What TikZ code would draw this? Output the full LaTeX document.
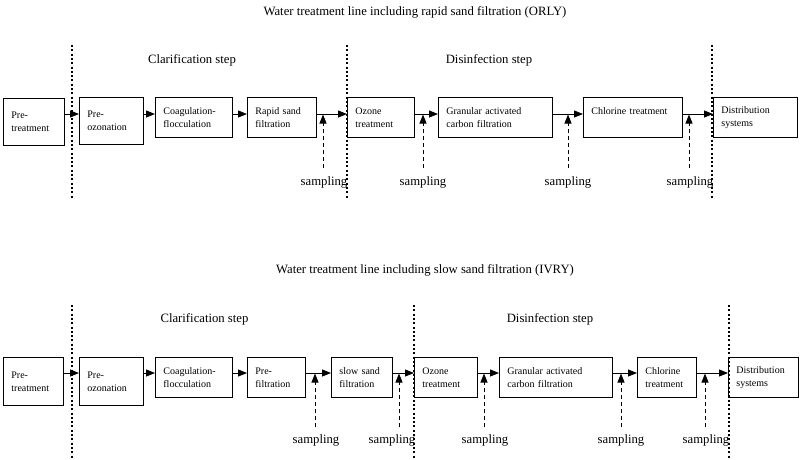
\documentclass[tikz,border=0pt]{standalone}
\usepackage{fontspec}
\setmainfont{Liberation Serif}
\usetikzlibrary{arrows.meta}
\tikzset{
  stage/.style={draw, line width=0.8pt, anchor=north west, align=left, inner xsep=8pt, inner ysep=0pt, font=\fontsize{10}{13}\selectfont},
  flow/.style={line width=0.9pt, -{Triangle[length=9pt,width=7pt]}},
  sample/.style={flow, dash pattern=on 4pt off 3pt},
  border/.style={line width=2pt, dash pattern=on 2pt off 2.3pt},
  heading/.style={font=\fontsize{12.7}{15}\selectfont, inner sep=0pt}
}
\begin{document}
\begin{tikzpicture}[x=1pt,y=1pt,yscale=-1,xscale=1]
            \useasboundingbox (0,0) rectangle (800,459);
            % ORLY line
            \node[heading] (titleA) at (415,12) {Water treatment line including rapid sand filtration (ORLY)};
            \node[heading] (clarA) at (192,60) {Clarification step};
            \node[heading] (disA) at (489,60) {Disinfection step};
            \draw[border] (71.5,45) -- (71.5,199);
            \draw[border] (347,45) -- (347,199);
            \draw[border] (712,45) -- (712,199);
            \coordinate (lineA) at (0,114);
            \node[stage, text width=45pt, minimum height=47pt] (pretreatA) at (3,98) {Pre-\\treatment};
            \node[stage, text width=48pt, minimum height=47pt] (preozoneA) at (79,97) {Pre-\\ozonation};
            \node[stage, text width=61pt, minimum height=40pt] (coagA) at (155,97) {Coagulation-\\flocculation};
            \node[stage, text width=53pt, minimum height=40pt] (rapidA) at (247,97) {Rapid sand\\filtration};
            \node[stage, text width=51pt, minimum height=40pt] (ozoneA) at (347,97) {Ozone\\treatment};
            \node[stage, text width=98pt, minimum height=40pt] (gacA) at (438,97) {Granular activated\\carbon filtration};
            \node[stage, text width=83pt, minimum height=40pt] (chlorA) at (583,97) {Chlorine treatment\\\mbox{}};
            \node[stage, text width=68pt, minimum height=40pt] (distA) at (713,97) {Distribution\\systems};
            \draw[flow] (pretreatA.east |- lineA) -- (preozoneA.west |- lineA);
            \draw[flow] (preozoneA.east |- lineA) -- (coagA.west |- lineA);
            \draw[flow] (coagA.east |- lineA) -- (rapidA.west |- lineA);
            \draw[flow] (rapidA.east |- lineA) -- (ozoneA.west |- lineA);
            \draw[flow] (ozoneA.east |- lineA) -- (gacA.west |- lineA);
            \draw[flow] (gacA.east |- lineA) -- (chlorA.west |- lineA);
            \draw[flow] (chlorA.east |- lineA) -- (distA.west |- lineA);
            \draw[sample] (323,168) -- (323,114.5);
            \draw[sample] (423,168) -- (423,114.5);
            \draw[sample] (568,168) -- (568,114.5);
            \draw[sample] (689,168) -- (689,114.5);
            \node[heading] (sampA1) at (324,182) {sampling};
            \node[heading] (sampA2) at (423,182) {sampling};
            \node[heading] (sampA3) at (568,182) {sampling};
            \node[heading] (sampA4) at (690,182) {sampling};
            % IVRY line
            \node[heading] (titleB) at (425,270) {Water treatment line including slow sand filtration (IVRY)};
            \node[heading] (clarB) at (204.5,319) {Clarification step};
            \node[heading] (disB) at (550,319) {Disinfection step};
            \draw[border] (71.5,305) -- (71.5,459);
            \draw[border] (414,305) -- (414,459);
            \draw[border] (729,305) -- (729,459);
            \coordinate (lineB) at (0,373);
            \node[stage, text width=44pt, minimum height=48pt] (pretreatB) at (3,357) {Pre-\\treatment};
            \node[stage, text width=48pt, minimum height=48pt] (preozoneB) at (79,357) {Pre-\\ozonation};
            \node[stage, text width=61pt, minimum height=40pt] (coagB) at (155,357) {Coagulation-\\flocculation};
            \node[stage, text width=42pt, minimum height=40pt] (prefiltB) at (247,357) {Pre-\\filtration};
            \node[stage, text width=45pt, minimum height=40pt] (slowB) at (331,357) {slow sand\\filtration};
            \node[stage, text width=47pt, minimum height=40pt] (ozoneB) at (414,357) {Ozone\\treatment};
            \node[stage, text width=97pt, minimum height=40pt] (gacB) at (499,357) {Granular activated\\carbon filtration};
            \node[stage, text width=43pt, minimum height=40pt] (chlorB) at (637,357) {Chlorine\\treatment};
            \node[stage, text width=54pt, minimum height=40pt] (distB) at (728,357) {Distribution\\systems};
            \draw[flow] (pretreatB.east |- lineB) -- (preozoneB.west |- lineB);
            \draw[flow] (preozoneB.east |- lineB) -- (coagB.west |- lineB);
            \draw[flow] (coagB.east |- lineB) -- (prefiltB.west |- lineB);
            \draw[flow] (prefiltB.east |- lineB) -- (slowB.west |- lineB);
            \draw[flow] (slowB.east |- lineB) -- (ozoneB.west |- lineB);
            \draw[flow] (ozoneB.east |- lineB) -- (gacB.west |- lineB);
            \draw[flow] (gacB.east |- lineB) -- (chlorB.west |- lineB);
            \draw[flow] (chlorB.east |- lineB) -- (distB.west |- lineB);
            \draw[sample] (315,427) -- (315,373.5);
            \draw[sample] (399,427) -- (399,373.5);
            \draw[sample] (484,427) -- (484,373.5);
            \draw[sample] (621,427) -- (621,373.5);
            \draw[sample] (705,427) -- (705,373.5);
            \node[heading] (sampB1) at (316,440) {sampling};
            \node[heading] (sampB2) at (392,440) {sampling};
            \node[heading] (sampB3) at (485,440) {sampling};
            \node[heading] (sampB4) at (621,440) {sampling};
            \node[heading] (sampB5) at (706,440) {sampling};
\end{tikzpicture}
\end{document}
